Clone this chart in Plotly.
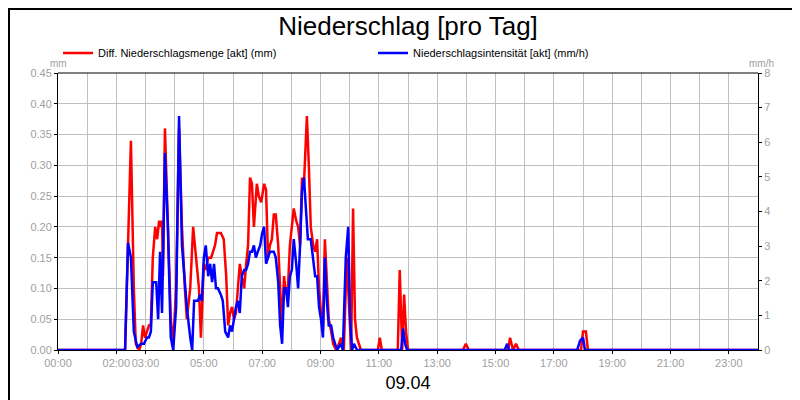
import plotly.graph_objects as go

# minutes since midnight / values
red_min = [0, 138, 144, 150, 156, 160, 167, 171, 175, 179, 183, 187, 191, 195, 200, 204, 208, 210, 214, 216,
           220, 226, 232, 237, 243, 249, 255, 261, 265, 272, 278, 284, 290, 294, 300, 304, 309, 315, 319, 323,
           327, 331, 335, 341, 346, 350, 354, 358, 362, 366, 370, 374, 378, 383, 387, 391, 395, 399, 403, 409,
           413, 418, 424, 428, 432, 436, 440, 444, 448, 453, 457, 461, 465, 469, 473, 477, 481, 485, 490, 494,
           498, 502, 506, 512, 516, 520, 525, 529, 533, 537, 541, 545, 549, 553, 557, 562, 566, 572, 578, 582,
           588, 594, 599, 603, 607, 611, 615, 623, 658, 662, 666, 699, 703, 708, 712, 716, 720, 833, 839, 845,
           926, 930, 936, 942, 948, 1076, 1080, 1086, 1090, 1440]
red_mm = [0, 0, 0.17, 0.34, 0.1, 0.01, 0, 0.01, 0.04, 0.02, 0.03, 0.04, 0.04, 0.15, 0.2, 0.18, 0.21, 0.2,
          0.21, 0.12, 0.36, 0.2, 0.05, 0.01, 0.1, 0.36, 0.2, 0.1, 0.05, 0.1, 0.2, 0.15, 0.1, 0.02, 0.14, 0.13,
          0.15, 0.15, 0.16, 0.17, 0.19, 0.19, 0.19, 0.18, 0.12, 0.04, 0.06, 0.07, 0.05, 0.06, 0.1, 0.14, 0.12,
          0.1, 0.14, 0.17, 0.28, 0.27, 0.2, 0.27, 0.25, 0.24, 0.27, 0.26, 0.15, 0.17, 0.18, 0.22, 0.22, 0.17,
          0.1, 0.04, 0.12, 0.09, 0.1, 0.17, 0.2, 0.23, 0.21, 0.2, 0.17, 0.28, 0.27, 0.38, 0.3, 0.2, 0.17, 0.16,
          0.18, 0.1, 0.06, 0.03, 0.18, 0.1, 0.05, 0.03, 0.01, 0, 0.01, 0.02, 0, 0.15, 0.06, 0, 0.23, 0.05, 0.02,
          0, 0, 0.02, 0, 0, 0.13, 0, 0.09, 0.03, 0, 0, 0.01, 0, 0, 0.02, 0, 0.01, 0, 0, 0.03, 0.03, 0, 0]

blue_min = [0, 138, 144, 150, 156, 163, 171, 177, 183, 187, 191, 195, 202, 206, 210, 214, 220, 226, 232, 237,
            243, 249, 255, 261, 265, 272, 276, 280, 288, 292, 296, 300, 304, 309, 313, 317, 321, 325, 329, 335,
            339, 344, 350, 354, 358, 362, 366, 370, 374, 378, 383, 387, 391, 395, 399, 403, 407, 411, 416, 420,
            424, 428, 432, 436, 440, 444, 448, 453, 457, 461, 465, 469, 473, 477, 481, 485, 490, 494, 498, 502,
            506, 510, 514, 520, 525, 529, 533, 537, 541, 545, 549, 553, 557, 562, 566, 570, 574, 582, 586, 592,
            597, 601, 605, 609, 615, 706, 710, 714, 718, 919, 924, 928, 1068, 1074, 1080, 1084, 1440]
blue_mmh = [0, 0, 3.1, 2.67, 0.53, 0.09, 0.18, 0.18, 0.36, 0.36, 0.53, 1.96, 1.96, 0.89, 2.84, 1.07, 5.69,
            3.56, 0.36, 0, 1.24, 6.76, 3.02, 1.78, 1.24, 0.36, 0, 1.42, 1.42, 1.6, 1.42, 2.67, 3.02, 2.13, 2.49,
            1.96, 2.49, 1.78, 1.78, 1.6, 1.42, 0.53, 0.36, 0.71, 0.53, 0.89, 1.24, 1.42, 1.07, 2.13, 2.31, 2.31,
            2.49, 2.84, 2.84, 3.02, 2.67, 2.84, 3.02, 3.38, 3.56, 2.49, 2.67, 2.84, 2.84, 2.84, 2.67, 1.96, 0.71,
            0.18, 1.78, 1.78, 1.24, 2.13, 2.31, 3.2, 2.49, 1.78, 3.02, 4.62, 4.98, 3.91, 3.2, 3.2, 2.67, 2.13,
            2.13, 1.24, 0.89, 0.36, 2.67, 1.42, 0.71, 0.71, 0.36, 0.18, 0, 0.18, 0, 2.67, 3.56, 0.89, 0, 0.18, 0,
            0, 0.62, 0.18, 0, 0, 0.18, 0, 0, 0.27, 0.36, 0, 0]

tick_hours = [0, 2, 3, 5, 7, 9, 11, 13, 15, 17, 19, 21, 23]
tick_text = ["00:00", "02:00", "03:00", "05:00", "07:00", "09:00", "11:00", "13:00",
             "15:00", "17:00", "19:00", "21:00", "23:00"]

font = "Liberation Sans, Arial"
grey = "#a0a0a0"

fig = go.Figure()
fig.add_trace(go.Scatter(x=[m / 60 for m in red_min], y=red_mm, mode="lines",
                         name="Diff. Niederschlagsmenge [akt] (mm)", line=dict(color="#ff0000", width=2.5)))
fig.add_trace(go.Scatter(x=[m / 60 for m in blue_min], y=blue_mmh, mode="lines", yaxis="y2",
                         name="Niederschlagsintensität [akt] (mm/h)", line=dict(color="#0000ff", width=2.5)))

fig.update_layout(
    width=800, height=400,
    margin=dict(l=50, r=50, t=65, b=58, autoexpand=False),
    paper_bgcolor="white", plot_bgcolor="white",
    font=dict(family=font, size=11, color="black"),
    title=dict(text="Niederschlag [pro Tag]", x=0.5, xanchor="center", y=0.955, yanchor="middle",
               font=dict(size=26, color="black")),
    showlegend=True,
    legend=dict(orientation="h", x=0.0, y=1.072, xanchor="left", yanchor="middle",
                font=dict(size=11), itemwidth=30, entrywidth=270, bgcolor="rgba(0,0,0,0)"),
    xaxis=dict(range=[0, 24], tickvals=tick_hours, ticktext=tick_text, tickangle=0,
               showgrid=True, gridcolor="#c0c0c0", tickfont=dict(color=grey, size=11),
               showline=True, linecolor="black", linewidth=1, ticks="outside", ticklen=3, tickcolor="black",
               title=dict(text="09.04", font=dict(size=18, color="black"), standoff=8), zeroline=False,
               automargin=False),
    yaxis=dict(range=[0, 0.45], dtick=0.05, tickformat=".2f", showgrid=True, gridcolor="#c0c0c0",
               tickfont=dict(color=grey, size=11), showline=True, linecolor="black", ticks="outside",
               ticklen=3, tickcolor="black", zeroline=False, automargin=False),
    yaxis2=dict(range=[0, 8], dtick=1, overlaying="y", side="right", showgrid=False,
                tickfont=dict(color=grey, size=11), showline=True, linecolor="black", ticks="outside",
                ticklen=3, tickcolor="black", zeroline=False, automargin=False),
    annotations=[
        dict(text="mm", xref="paper", yref="paper", x=-0.014, y=1.061, showarrow=False,
             font=dict(color=grey, size=10)),
        dict(text="mm/h", xref="paper", yref="paper", x=1.026, y=1.061, showarrow=False,
             font=dict(color=grey, size=10)),
    ],
    shapes=[dict(type="rect", xref="paper", yref="paper", x0=-0.0700, x1=1.0700, y0=-0.205, y1=1.231,
                 line=dict(color="black", width=2)),
            dict(type="line", xref="paper", yref="paper", x0=0, x1=1, y0=1, y1=1,
                 line=dict(color="black", width=1))],
)

# extra hourly gridlines without labels
fig.update_xaxes(minor=dict(dtick=1, showgrid=True, gridcolor="#c0c0c0"))

fig.write_html("out.html")
